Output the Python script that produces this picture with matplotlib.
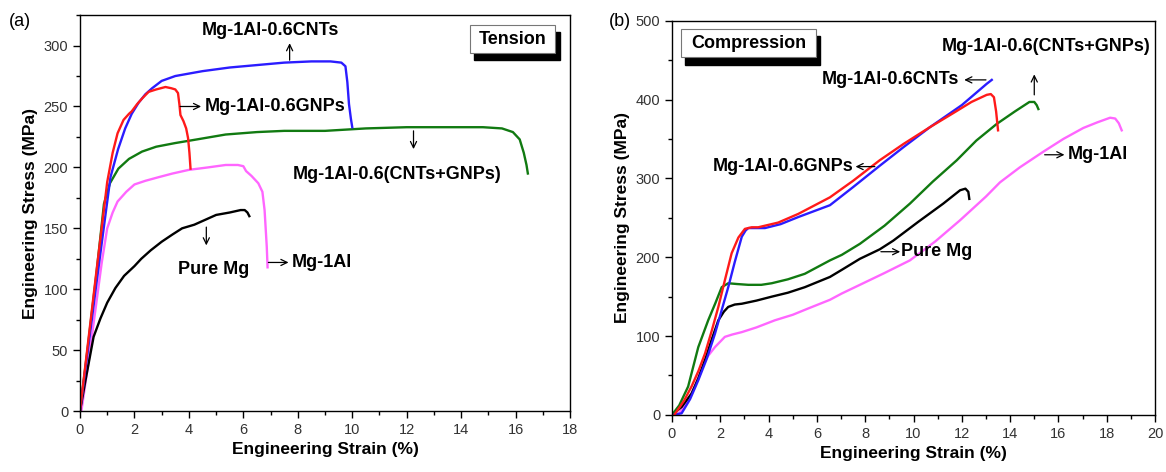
import matplotlib
matplotlib.use("Agg")
import matplotlib.pyplot as plt
from matplotlib.patches import Rectangle
from matplotlib.ticker import MultipleLocator

plt.rcParams['font.family'] = ['Liberation Sans', 'DejaVu Sans']

# ---------------- Tension data (panel a) ----------------
t_cnt_x = [0, 0.3, 0.6, 0.9, 1.12, 1.4, 1.66, 1.9, 2.15, 2.4, 2.65, 3.0, 3.5, 4.0, 4.5, 5.5, 6.5, 7.5, 8.5, 9.2, 9.6, 9.75, 9.82, 9.88, 9.95, 10.0]
t_cnt_y = [0, 52, 104, 155, 192, 215, 232, 244, 253, 260, 265, 271, 275, 277, 279, 282, 284, 286, 287, 287, 286, 283, 270, 252, 240, 233]

t_gnp_x = [0, 0.3, 0.6, 0.85, 1.0, 1.2, 1.38, 1.6, 1.8, 1.9, 2.1, 2.3, 2.52, 2.8, 3.14, 3.35, 3.5, 3.6, 3.65, 3.69, 3.8, 3.9, 3.97, 4.02, 4.06]
t_gnp_y = [0, 57, 114, 160, 188, 212, 228, 239, 244, 246, 252, 257, 262, 264, 266, 265, 264, 261, 252, 243, 238, 232, 224, 212, 199]

t_hyb_x = [0, 0.3, 0.6, 0.88, 1.1, 1.41, 1.8, 2.28, 2.8, 3.5, 4.3, 5.35, 6.5, 7.5, 9.0, 10.5, 12.0, 13.5, 14.8, 15.5, 15.9, 16.15, 16.3, 16.4, 16.45]
t_hyb_y = [0, 55, 112, 170, 187, 199, 207, 213, 217, 220, 223, 227, 229, 230, 230, 232, 233, 233, 233, 232, 229, 223, 212, 202, 195]

t_al_x = [0.05, 0.3, 0.5, 0.8, 1.0, 1.2, 1.38, 1.7, 2.0, 2.4, 2.89, 3.4, 4.0, 4.7, 5.35, 5.8, 6.0, 6.1, 6.3, 6.55, 6.7, 6.78, 6.82, 6.86, 6.89]
t_al_y = [0, 38, 72, 122, 150, 163, 172, 180, 186, 189, 192, 195, 198, 200, 202, 202, 201, 197, 193, 187, 180, 165, 150, 135, 118]

t_mg_x = [0, 0.2, 0.35, 0.5, 0.75, 1.0, 1.3, 1.62, 2.0, 2.25, 2.6, 3.0, 3.4, 3.75, 4.2, 4.6, 5.0, 5.5, 5.9, 6.05, 6.15, 6.22]
t_mg_y = [0, 25, 43, 61, 76, 89, 101, 111, 119, 125, 132, 139, 145, 150, 153, 157, 161, 163, 165, 165, 163, 160]

# ---------------- Compression data (panel b) ----------------
c_cnt_x = [0, 0.4, 0.75, 1.09, 1.45, 1.78, 2.05, 2.33, 2.6, 2.89, 3.05, 3.16, 3.5, 3.85, 4.5, 5.23, 6.54, 7.5, 8.6, 9.6, 10.68, 12.0, 13.03, 13.24]
c_cnt_y = [0, 2, 20, 44, 72, 103, 132, 162, 194, 226, 234, 237, 237, 237, 242, 251, 266, 289, 316, 340, 365, 393, 420, 425]

c_gnp_x = [0.1, 0.5, 0.81, 1.1, 1.37, 1.65, 1.92, 2.2, 2.47, 2.75, 3.02, 3.3, 3.57, 4.4, 5.23, 6.54, 7.5, 8.6, 9.6, 10.68, 11.6, 12.4, 13.03, 13.2, 13.33, 13.42, 13.5]
c_gnp_y = [0, 18, 36, 56, 78, 107, 137, 172, 205, 225, 236, 238, 238, 244, 255, 276, 297, 323, 344, 365, 382, 397, 406, 407, 403, 385, 361]

c_hyb_x = [0, 0.3, 0.67, 1.09, 1.5, 1.8, 2.06, 2.33, 2.7, 3.16, 3.7, 4.13, 4.8, 5.5, 6.54, 7.03, 7.78, 8.8, 9.85, 10.8, 11.79, 12.6, 13.44, 14.2, 14.8, 15.0, 15.1, 15.17]
c_hyb_y = [0, 12, 36, 86, 120, 142, 162, 167, 166, 165, 165, 167, 172, 179, 196, 203, 217, 240, 268, 296, 323, 348, 369, 385, 397, 397, 393, 388]

c_mg_x = [0, 0.4, 0.81, 1.1, 1.37, 1.65, 1.92, 2.15, 2.33, 2.6, 2.89, 3.5, 4.13, 4.8, 5.5, 6.54, 7.03, 7.78, 8.6, 9.16, 10.2, 11.23, 11.93, 12.15, 12.27, 12.31]
c_mg_y = [0, 10, 27, 47, 70, 96, 120, 131, 137, 140, 141, 145, 150, 155, 162, 175, 184, 198, 210, 221, 245, 268, 285, 287, 283, 274]

c_al_x = [0.25, 0.6, 0.95, 1.37, 1.78, 2.19, 2.5, 2.89, 3.5, 4.26, 5.0, 5.64, 6.54, 7.03, 7.78, 8.8, 9.85, 10.9, 11.93, 13.0, 13.58, 14.4, 15.38, 16.2, 17.03, 17.6, 18.14, 18.35, 18.5, 18.62]
c_al_y = [0, 14, 36, 70, 86, 99, 102, 105, 111, 120, 127, 135, 146, 154, 165, 180, 196, 220, 247, 277, 295, 314, 334, 350, 364, 371, 377, 376, 370, 361]

colors = {'cnt': '#2b1cff', 'gnp': '#ff1a1a', 'hyb': '#117a11', 'al': '#ff66ff', 'mg': '#000000'}

fig = plt.figure(figsize=(11.66, 4.72), dpi=100)
axA = fig.add_axes([0.0686, 0.129, 0.4203, 0.839])
axB = fig.add_axes([0.5763, 0.121, 0.4143, 0.835])

lw = 1.7
axA.plot(t_al_x, t_al_y, color=colors['al'], lw=lw)
axA.plot(t_mg_x, t_mg_y, color=colors['mg'], lw=lw)
axA.plot(t_hyb_x, t_hyb_y, color=colors['hyb'], lw=lw)
axA.plot(t_cnt_x, t_cnt_y, color=colors['cnt'], lw=lw)
axA.plot(t_gnp_x, t_gnp_y, color=colors['gnp'], lw=lw)

axB.plot(c_al_x, c_al_y, color=colors['al'], lw=lw)
axB.plot(c_mg_x, c_mg_y, color=colors['mg'], lw=lw)
axB.plot(c_hyb_x, c_hyb_y, color=colors['hyb'], lw=lw)
axB.plot(c_cnt_x, c_cnt_y, color=colors['cnt'], lw=lw)
axB.plot(c_gnp_x, c_gnp_y, color=colors['gnp'], lw=lw)

def style(ax, xmax, xmaj, ymax, ymaj):
    ax.set_xlim(0, xmax)
    ax.set_ylim(0, ymax)
    ax.xaxis.set_major_locator(MultipleLocator(xmaj))
    ax.xaxis.set_minor_locator(MultipleLocator(xmaj / 2))
    ax.yaxis.set_major_locator(MultipleLocator(ymaj))
    ax.yaxis.set_minor_locator(MultipleLocator(ymaj / 2))
    ax.tick_params(which='both', direction='out', top=False, right=False, labelsize=10.5, labelcolor='#333333')
    ax.tick_params(which='major', length=5, width=1)
    ax.tick_params(which='minor', length=3, width=1)
    for s in ax.spines.values():
        s.set_linewidth(1.0)
    ax.set_xlabel('Engineering Strain (%)', fontsize=12.5, fontweight='bold', labelpad=4)
    ax.set_ylabel('Engineering Stress (MPa)', fontsize=12.5, fontweight='bold', labelpad=4)

style(axA, 18, 2, 325, 50)
style(axB, 20, 2, 500, 100)

def shadow_box(ax, x0, y0, x1, y1, text):
    ax.add_patch(Rectangle((x0 + 0.009, y0 - 0.018), x1 - x0, y1 - y0, transform=ax.transAxes,
                           facecolor='black', edgecolor='black', zorder=5))
    ax.add_patch(Rectangle((x0, y0), x1 - x0, y1 - y0, transform=ax.transAxes,
                           facecolor='white', edgecolor='#777777', lw=0.8, zorder=6))
    ax.text((x0 + x1) / 2, (y0 + y1) / 2, text, transform=ax.transAxes, ha='center', va='center',
            fontsize=13, fontweight='bold', zorder=7)

shadow_box(axA, 0.795, 0.904, 0.970, 0.975, 'Tension')
shadow_box(axB, 0.019, 0.907, 0.298, 0.980, 'Compression')

fs = 13
arr = dict(arrowstyle='->,head_length=0.45,head_width=0.22', color='black', lw=0.9, shrinkA=0, shrinkB=0)

# panel a annotations
axA.text(7.0, 312, 'Mg-1Al-0.6CNTs', ha='center', va='center', fontsize=fs, fontweight='bold')
axA.annotate('', xy=(7.7, 302), xytext=(7.7, 288), arrowprops=arr)
axA.annotate('', xy=(4.45, 250), xytext=(3.68, 250), arrowprops=arr)
axA.text(4.57, 250, 'Mg-1Al-0.6GNPs', ha='left', va='center', fontsize=fs, fontweight='bold')
axA.annotate('', xy=(12.25, 215), xytext=(12.25, 230), arrowprops=arr)
axA.text(11.66, 194, 'Mg-1Al-0.6(CNTs+GNPs)', ha='center', va='center', fontsize=fs, fontweight='bold')
axA.annotate('', xy=(4.64, 136), xytext=(4.64, 151), arrowprops=arr)
axA.text(4.9, 116, 'Pure Mg', ha='center', va='center', fontsize=fs, fontweight='bold')
axA.annotate('', xy=(7.66, 122), xytext=(6.92, 122), arrowprops=arr)
axA.text(7.78, 122, 'Mg-1Al', ha='left', va='center', fontsize=fs, fontweight='bold')

# panel b annotations
axB.text(11.9, 425, 'Mg-1Al-0.6CNTs', ha='right', va='center', fontsize=fs, fontweight='bold')
axB.annotate('', xy=(12.1, 425), xytext=(13.0, 425), arrowprops=arr)
axB.text(7.5, 315, 'Mg-1Al-0.6GNPs', ha='right', va='center', fontsize=fs, fontweight='bold')
axB.annotate('', xy=(7.6, 315), xytext=(8.4, 315), arrowprops=arr)
axB.annotate('', xy=(15.0, 432), xytext=(15.0, 406), arrowprops=arr)
axB.text(19.8, 467, 'Mg-1Al-0.6(CNTs+GNPs)', ha='right', va='center', fontsize=fs, fontweight='bold')
axB.annotate('', xy=(16.25, 330), xytext=(15.43, 330), arrowprops=arr)
axB.text(16.4, 330, 'Mg-1Al', ha='left', va='center', fontsize=fs, fontweight='bold')
axB.annotate('', xy=(9.45, 207), xytext=(8.65, 207), arrowprops=arr)
axB.text(9.48, 207, 'Pure Mg', ha='left', va='center', fontsize=fs, fontweight='bold')

fig.text(0.008, 0.955, '(a)', fontsize=13, va='center', ha='left')
fig.text(0.522, 0.955, '(b)', fontsize=13, va='center', ha='left')

fig.savefig('out.png', dpi=100)
